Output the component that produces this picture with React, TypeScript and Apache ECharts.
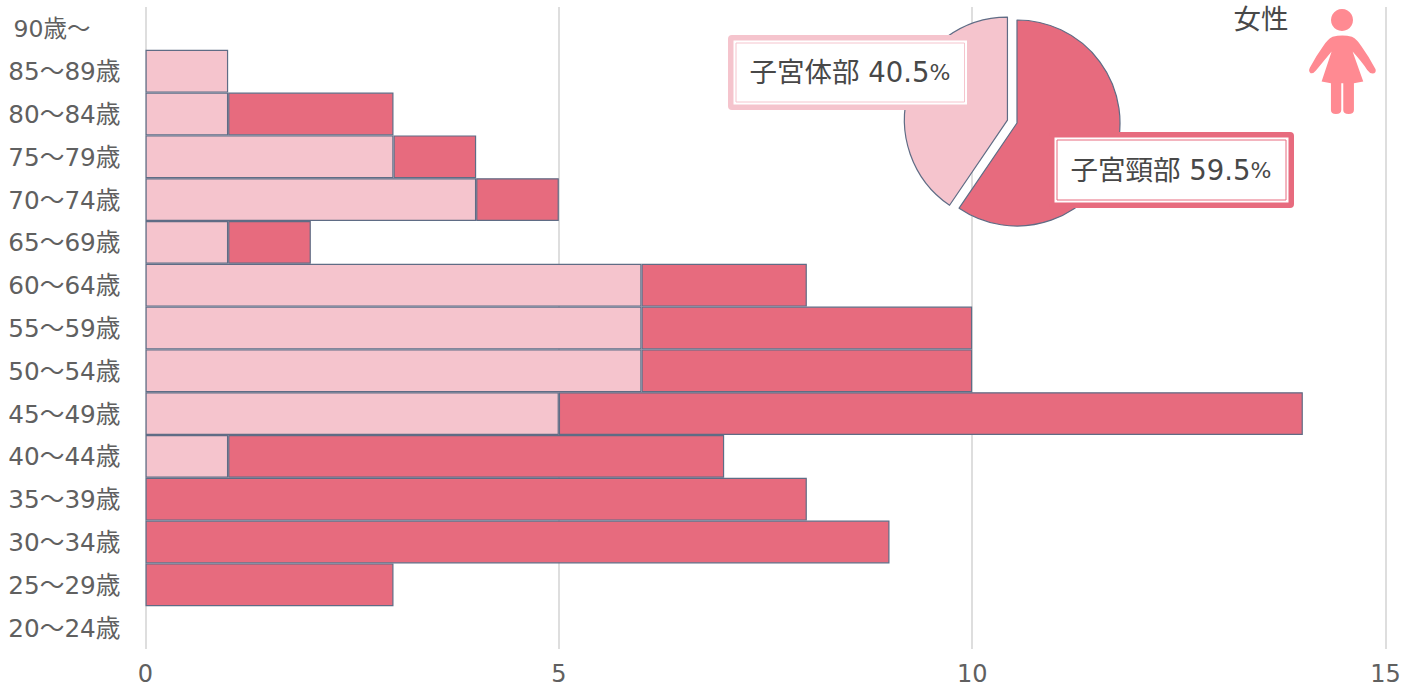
import React, { useEffect, useRef } from "react";
import * as echarts from "echarts";

const categories = ["20～24歳","25～29歳","30～34歳","35～39歳","40～44歳","45～49歳","50～54歳","55～59歳","60～64歳","65～69歳","70～74歳","75～79歳","80～84歳","85～89歳","90歳～"];
const corpusValues = [null,null,null,null,1,5,6,6,6,1,4,3,1,1,null];
const cervixValues = [null,3,9,8,6,9,4,4,2,1,1,1,2,null,null];
const xTicks = { min: 0, max: 15, interval: 5 };
const pieNames = ["子宮頸部","子宮体部"];
const pieValues = [59.5,40.5];
const genderLabel = "女性";

const LIGHT = "#f5c4cd";
const DARK = "#e76b7e";
const EDGE = "#5f6c85";
const FONT = '"DejaVu Sans","Noto Sans CJK JP",sans-serif';

const PERSON = "M158 110 Q187 103 216 110 Q232 118 245 140 Q268 172 287 208 Q290 220 278 221 Q270 221 262 210 Q245 185 218 155 L250 245 L222 250 L222 330 Q222 342 206 342 Q190 342 190 330 L190 250 L184 250 L184 330 Q184 342 168 342 Q153 342 153 330 L153 250 L125 245 L155 155 Q130 185 108 212 Q100 222 92 220 Q84 214 90 203 Q108 168 130 138 Q142 118 158 110 Z";

function frame(x0: number, y0: number, x1: number, y1: number, m: number, color: string, name: string, value: number, cx: number, cy: number) {
  return [
    { type: "rect", z: 10, shape: { x: x0, y: y0, width: x1 - x0, height: y1 - y0, r: 4 }, style: { fill: color } },
    { type: "rect", z: 11, shape: { x: x0 + m, y: y0 + m, width: x1 - x0 - 2 * m, height: y1 - y0 - 2 * m }, style: { fill: "#ffffff" } },
    { type: "rect", z: 12, shape: { x: x0 + m + 2.5, y: y0 + m + 2.5, width: x1 - x0 - 2 * m - 5, height: y1 - y0 - 2 * m - 5 }, style: { fill: "#ffffff", stroke: color, lineWidth: 1 } },
    {
      type: "text", z: 13, x: cx, y: cy,
      style: {
        text: `{a|${name} ${value}}{b|%}`, align: "center", verticalAlign: "middle",
        rich: {
          a: { fontFamily: FONT, fontSize: 27.5, fill: "#484848", color: "#484848" },
          b: { fontFamily: FONT, fontSize: 22, fill: "#484848", color: "#484848" },
        },
      },
    },
  ];
}

export default function App() {
  const ref = useRef<HTMLDivElement>(null);
  useEffect(() => {
    echarts.graphic.registerShape("femaleIcon", echarts.graphic.extendPath(PERSON, {}));
    const chart = echarts.init(ref.current!, null, { renderer: "svg" });
    const barStyle = (c: string) => ({ color: c, borderColor: EDGE, borderWidth: 1.2 });
    chart.setOption({
      animation: false,
      grid: { left: 145.5, right: 29.5, top: 7, bottom: 39, containLabel: false },
      xAxis: {
        type: "value", ...xTicks,
        axisLine: { show: false }, axisTick: { show: false },
        splitLine: { show: true, lineStyle: { color: "#dedede", width: 2 } },
        axisLabel: { color: "#606060", fontSize: 24, fontFamily: FONT, margin: 13 },
      },
      yAxis: {
        type: "category", data: categories,
        axisLine: { show: false }, axisTick: { show: false },
        axisLabel: {
          color: "#606060", fontSize: 24.7, fontFamily: FONT, margin: 25,
          padding: [1, 0, 0, 0],
          formatter: (v: string) => (v.endsWith("～") ? `{o|${v}}` : v),
          rich: { o: { color: "#606060", fontSize: 23.5, fontFamily: FONT, padding: [0, 30, 0, 0] } },
        },
      },
      series: [
        { type: "bar", stack: "a", data: corpusValues, barWidth: "100%", itemStyle: barStyle(LIGHT), silent: true },
        { type: "bar", stack: "a", data: cervixValues, barWidth: "100%", itemStyle: barStyle(DARK), silent: true },
        {
          type: "pie", center: [1017, 123], radius: 103, startAngle: 90, clockwise: true, z: 5,
          selectedMode: "multiple", selectedOffset: 10, silent: true,
          label: { show: false }, labelLine: { show: false },
          data: [
            { name: pieNames[0], value: pieValues[0], itemStyle: barStyle(DARK) },
            { name: pieNames[1], value: pieValues[1], selected: true, itemStyle: barStyle(LIGHT), select: { itemStyle: barStyle(LIGHT) } },
          ],
        },
      ],
      graphic: [
        ...frame(728, 35, 972.5, 110, 5.5, LIGHT, pieNames[1], pieValues[1], 850, 72),
        ...frame(1049, 132, 1294, 208, 5.5, DARK, pieNames[0], pieValues[0], 1171, 170),
        { type: "text", z: 10, x: 1261, y: 19, style: { text: genderLabel, align: "center", verticalAlign: "middle", fontFamily: FONT, fontSize: 27.5, fill: "#484848" } },
        { type: "circle", z: 10, shape: { cx: 1342, cy: 20, r: 11 }, style: { fill: "#ff8a92" } },
        { type: "femaleIcon", z: 10, x: 1280, y: 0, scaleX: 1 / 3, scaleY: 1 / 3, style: { fill: "#ff8a92" } },
      ],
    });
    return () => chart.dispose();
  }, []);
  return <div ref={ref} style={{ position: "absolute", left: 0, top: 0, width: 1415, height: 688 }} />;
}
